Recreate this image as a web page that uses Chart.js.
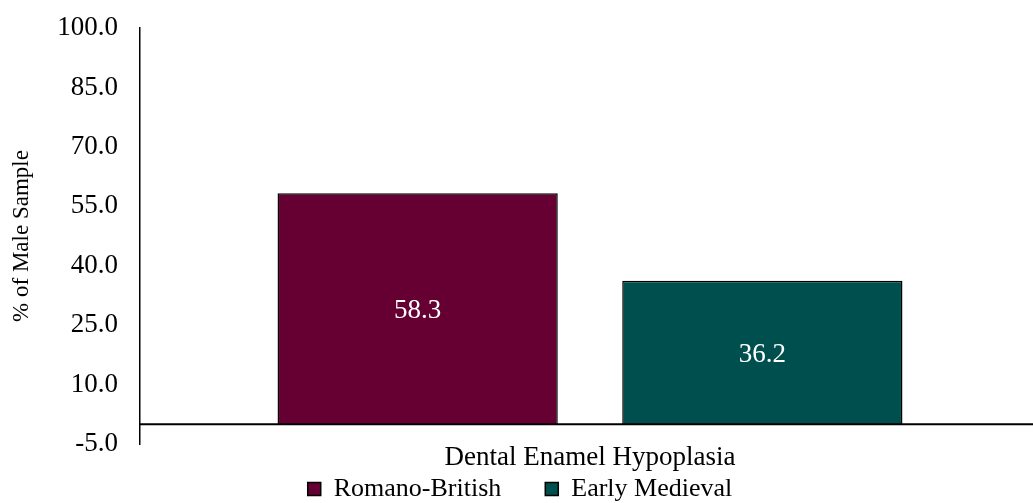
<!DOCTYPE html>
<html>
<head>
<meta charset="utf-8">
<script src="https://cdn.jsdelivr.net/npm/chart.js@4/dist/chart.umd.min.js"></script>
<style>
  html, body { margin: 0; padding: 0; background: #fff; overflow: hidden; }
  #wrap { width: 1040px; height: 503px; }
</style>
</head>
<body>
<div id="wrap"><canvas id="chart"></canvas></div>
<script>
const categories = ["Dental Enamel Hypoplasia"];
const seriesNames = ["Romano-British", "Early Medieval"];
const romanoBritish = [58.3];
const earlyMedieval = [36.2];
const seriesColors = ["#660033", "#004F4F"];

const FONT = "'Liberation Serif', 'Times New Roman', serif";

// 0 기준선 (눈금에 0이 없어서 직접 그림)
const zeroLine = {
  id: "zeroLine",
  afterDatasetsDraw(chart) {
    const { ctx, chartArea, scales } = chart;
    const y = scales.y.getPixelForValue(0);
    ctx.save();
    ctx.strokeStyle = "#000";
    ctx.lineWidth = 2;
    ctx.beginPath();
    ctx.moveTo(chartArea.left, y);
    ctx.lineTo(chartArea.right, y);
    ctx.stroke();
    ctx.restore();
  },
};

// 막대 가운데 값 표시
const barValues = {
  id: "barValues",
  afterDatasetsDraw(chart) {
    const { ctx } = chart;
    ctx.save();
    ctx.fillStyle = "#fff";
    ctx.font = "27px " + FONT;
    ctx.textAlign = "center";
    ctx.textBaseline = "middle";
    chart.data.datasets.forEach((ds, i) => {
      chart.getDatasetMeta(i).data.forEach((bar, j) => {
        ctx.fillText(ds.data[j].toFixed(1), bar.x, (bar.y + bar.base) / 2 + 2);
      });
    });
    ctx.restore();
  },
};

new Chart(document.getElementById("chart"), {
  type: "bar",
  data: {
    labels: categories,
    datasets: [
      {
        label: seriesNames[0],
        data: romanoBritish,
        backgroundColor: seriesColors[0],
        borderColor: "#000",
        borderWidth: 1.5,
      },
      {
        label: seriesNames[1],
        data: earlyMedieval,
        backgroundColor: seriesColors[1],
        borderColor: "#000",
        borderWidth: 1.5,
      },
    ],
  },
  options: {
    responsive: true,
    maintainAspectRatio: false,
    animation: false,
    categoryPercentage: 0.766,
    barPercentage: 0.813,
    layout: { padding: { top: 28, right: 0, left: 0, bottom: -9 } },
    scales: {
      x: {
        grid: { display: false, drawTicks: false },
        border: { display: false },
        ticks: { color: "#000", font: { family: FONT, size: 27, lineHeight: 1 }, padding: 0 },
      },
      y: {
        min: -5,
        max: 100,
        afterFit: (scale) => { scale.width = 140; },
        // 눈금 표시선은 투명, 라벨과 축 사이 간격용
        grid: { display: true, color: "transparent", tickColor: "transparent", tickLength: 22 },
        border: { color: "#000", width: 1.5 },
        ticks: {
          stepSize: 15,
          color: "#000",
          padding: 0,
          font: { family: FONT, size: 27 },
          callback: (v) => v.toFixed(1),
        },
        title: {
          display: true,
          text: "% of Male Sample",
          color: "#000",
          font: { family: FONT, size: 23 },
          padding: { top: 8, bottom: 0 },
        },
      },
    },
    plugins: {
      legend: {
        position: "bottom",
        labels: {
          color: "#000",
          font: { family: FONT, size: 26, lineHeight: 1 },
          boxWidth: 13,
          boxHeight: 13,
          padding: 5,
          // 항목 사이 간격 넓히기
          generateLabels: (chart) => {
            const items = Chart.defaults.plugins.legend.labels.generateLabels(chart);
            items.forEach((item, i) => {
              if (i < items.length - 1) item.text = item.text + "      ";
            });
            return items;
          },
        },
      },
      tooltip: { enabled: false },
    },
  },
  plugins: [zeroLine, barValues],
});
</script>
</body>
</html>
